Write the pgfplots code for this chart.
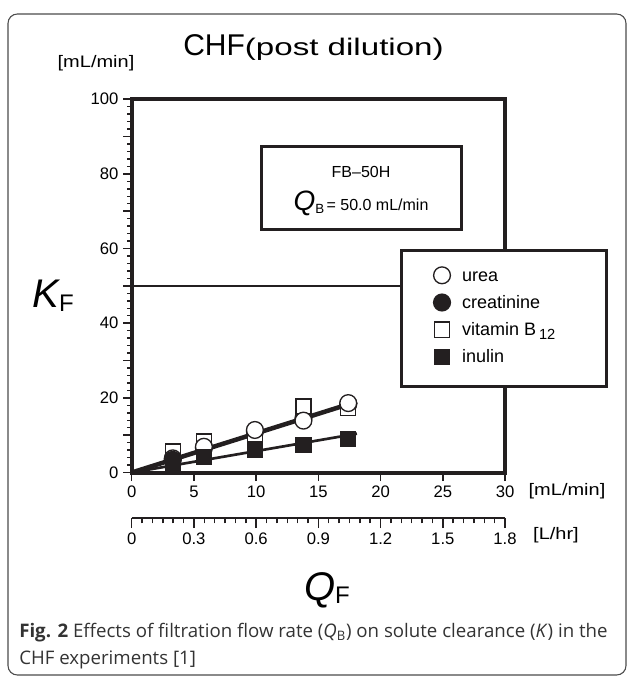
\documentclass[border=0pt]{standalone}
\usepackage{fontspec}
\setmainfont{Liberation Sans}
\newfontfamily\capfont{Open Sans}
\usepackage{graphicx}
\usepackage{pgfplots}
\pgfplotsset{compat=1.18}
\definecolor{ink}{HTML}{231F20}
\definecolor{capgray}{HTML}{333333}

\begin{document}
\begin{tikzpicture}[x=0.75pt,y=0.75pt]
\path[use as bounding box] (0,0) rectangle (629,678);
\draw[color=black!70, line width=0.8pt, rounded corners=7pt] (8,3) rectangle (626,664);

% title and labels
\node[anchor=base west, inner sep=0pt] at (183,622) {\fontsize{22.5}{24}\selectfont CHF\scalebox{1.38}[1]{\fontsize{18}{18}\selectfont (post dilution)}};
\node[inner sep=0pt] at (96,615) {\scalebox{1.2}[1]{\fontsize{12.5}{14}\selectfont [mL/min]}};
\node[inner sep=0pt] at (567,187) {\scalebox{1.2}[1]{\fontsize{12.5}{14}\selectfont [mL/min]}};
\node[inner sep=0pt] at (556,143) {\scalebox{1.2}[1]{\fontsize{12.5}{14}\selectfont [L/hr]}};
\node[inner sep=0pt] at (53,382) {{\fontsize{30}{30}\selectfont\itshape K}\raisebox{-0.5ex}{\fontsize{18}{18}\selectfont F}};
\node[inner sep=0pt] at (327,88) {{\fontsize{30}{30}\selectfont\itshape Q}\raisebox{-0.5ex}{\fontsize{18}{18}\selectfont F}};

% caption
\node[anchor=base west, inner sep=0pt, text=capgray] at (19,40) {\capfont\fontsize{14}{16}\selectfont\textbf{Fig. 2} Effects of filtration flow rate (\textit{Q}\textsubscript{B}) on solute clearance (\textit{K}) in the};
\node[anchor=base west, inner sep=0pt, text=capgray] at (19,13) {\capfont\fontsize{14}{16}\selectfont CHF experiments [1]};

\begin{axis}[
  at={(98.78pt,154.1pt)}, anchor=south west, scale only axis,
  width=280pt, height=280pt,
  xmin=0, xmax=30, ymin=0, ymax=100,
  clip=false,
  axis line style={line width=3pt, color=ink},
  tick align=outside,
  xtick pos=bottom, ytick pos=left,
  xtick={0,5,...,30},
  ytick={0,10,...,100},
  yticklabels={0,,20,,40,,60,,80,,100},
  minor y tick num=4,
  minor x tick num=0,
  major tick length=6.5pt, minor tick length=3.5pt,
  tick style={line width=1.1pt, color=ink},
  tick label style={font=\fontsize{12.5}{14}\selectfont},
  /pgf/number format/assume math mode=true,
  legend style={at={(0.8055,0.554)}, anchor=north west, draw=none, fill=none,
    inner sep=0pt, nodes={inner sep=0pt}, row sep=6.4pt, column sep=8pt,
    font=\fontsize{13.5}{15}\selectfont},
  legend cell align=left,
  legend image code/.code={\path[draw=none,fill=none] (-7pt,-7pt) rectangle (7pt,7pt); \path[#1,draw=none] plot coordinates {(0pt,0pt)};},
]
% reference line at 50
\addplot[forget plot, line width=1.1pt, color=ink] coordinates {(0,50) (21.7,50)};

% data
\addplot[forget plot, only marks, mark=*, mark size=6.3pt, mark options={fill=ink, draw=ink, line width=1pt}]
  coordinates {(5.8,6.6) (9.9,11.0) (13.8,14.5) (17.4,18.3)};
\addplot[forget plot, only marks, mark=square*, mark size=5.6pt, mark options={fill=white, draw=ink, line width=1pt}]
  coordinates {(3.3,5.6) (5.8,8.3) (9.9,9.2) (13.8,17.7) (17.4,17.3)};
\addplot[forget plot, only marks, mark=*, mark size=6.3pt, mark options={fill=white, draw=ink, line width=1pt}]
  coordinates {(3.3,3.8) (5.8,6.9) (9.9,11.4) (13.8,13.9) (17.4,18.6)};
\addplot[forget plot, only marks, mark=*, mark size=6.3pt, mark options={fill=ink, draw=ink, line width=1pt}]
  coordinates {(3.3,3.4)};
\addplot[forget plot, only marks, mark=square*, mark size=5.6pt, mark options={fill=ink, draw=ink, line width=1pt}]
  coordinates {(3.3,1.8) (5.8,4.1) (9.9,6.2) (13.8,7.4) (17.4,9.0)};

% regression lines
\addplot[forget plot, line width=3.4pt, color=ink] coordinates {(0,0) (18.1,19.0)};
\addplot[forget plot, line width=2pt, color=ink] coordinates {(0,0) (18.1,10.4)};

% info box
\draw[line width=2.2pt, color=ink, fill=white] (axis cs:10.45,65.2) rectangle (axis cs:26.47,87.4);
\node at (axis cs:18.43,80.5) {\fontsize{12}{14}\selectfont FB\textendash 50H};
\node at (axis cs:18.43,72.2) {{\fontsize{21}{21}\selectfont\itshape Q}\raisebox{-0.55ex}{\fontsize{10}{10}\selectfont B}\,{\fontsize{12}{14}\selectfont = 50.0 mL/min}};
% legend box
\draw[line width=2.2pt, color=ink, fill=white] (axis cs:21.7,23.06) rectangle (axis cs:38.18,59.35);

\addlegendimage{mark=*, mark size=6.3pt, mark options={fill=white, draw=ink, line width=1pt}}
\addlegendentry{\strut urea}
\addlegendimage{mark=*, mark size=6.3pt, mark options={fill=ink, draw=ink, line width=1pt}}
\addlegendentry{\strut creatinine}
\addlegendimage{mark=square*, mark size=5.8pt, mark options={fill=white, draw=ink, line width=1pt}}
\addlegendentry{\strut vitamin B\,\raisebox{-0.45ex}{\fontsize{11}{11}\selectfont 12}}
\addlegendimage{mark=square*, mark size=5.8pt, mark options={fill=ink, draw=ink, line width=1pt}}
\addlegendentry{\strut inulin}
\end{axis}

\begin{axis}[
  at={(98.78pt,120pt)}, anchor=south west, scale only axis,
  width=280pt, height=10pt,
  xmin=0, xmax=1.8, ymin=0, ymax=1,
  axis x line*=bottom, axis y line=none,
  xtick={0,0.3,0.6,0.9,1.2,1.5,1.8},
  xticklabels={0,0.3,0.6,0.9,1.2,1.5,1.8},
  minor x tick num=5,
  tick align=outside,
  major tick length=7.5pt, minor tick length=4pt,
  axis line style={line width=1.6pt, color=ink},
  tick style={line width=1.1pt, color=ink},
  tick label style={font=\fontsize{12.5}{14}\selectfont},
]
\addplot[draw=none, forget plot] coordinates {(0,0.5)};
\end{axis}
\end{tikzpicture}
\end{document}
